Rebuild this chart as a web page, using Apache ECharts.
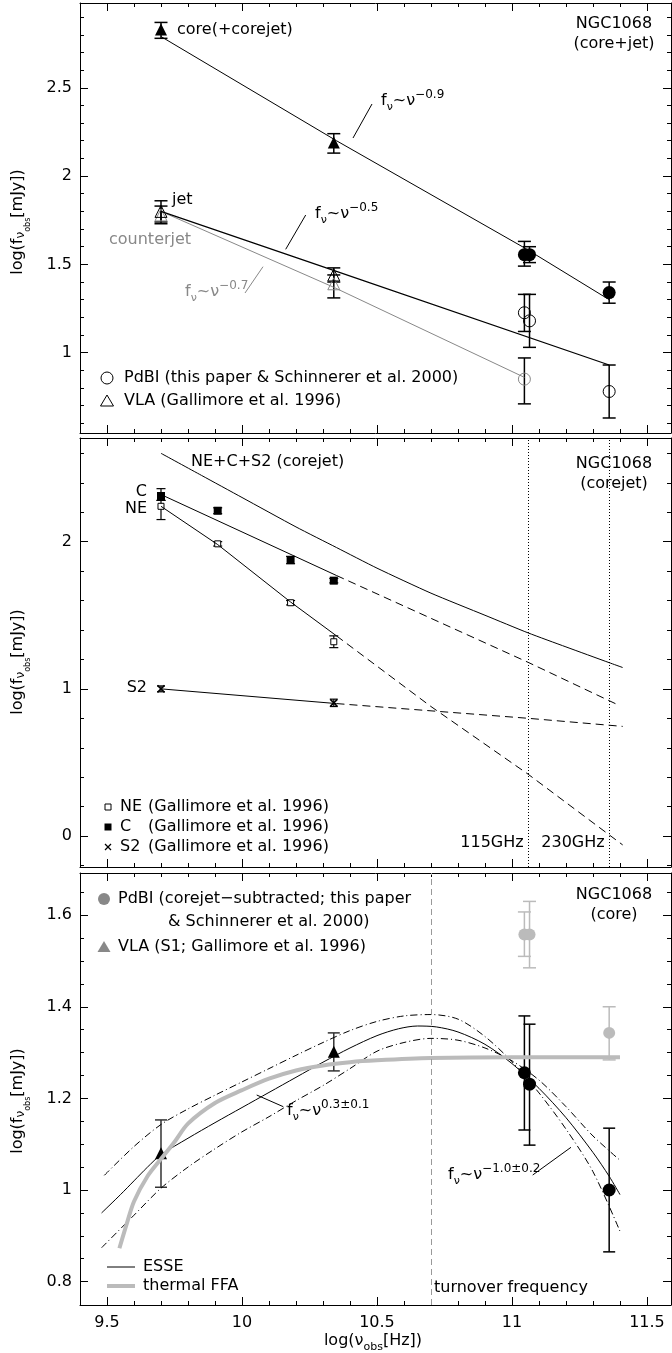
<!DOCTYPE html>
<html><head><meta charset="utf-8">
<script src="https://cdn.jsdelivr.net/npm/echarts@6/dist/echarts.min.js"></script>
<style>html,body{margin:0;padding:0;background:#fff}#c{width:672px;height:1353px}</style>
</head><body><div id="c"></div>
<script>
// ---------------- DATA ----------------
const xMajorTicks = [9.5, 10, 10.5, 11, 11.5];
const xMinorTicks = [9.4,9.5,9.6,9.7,9.8,9.9,10,10.1,10.2,10.3,10.4,10.5,10.6,10.7,10.8,10.9,11,11.1,11.2,11.3,11.4,11.5];
const topYMajor = [1, 1.5, 2, 2.5];
const topYMinor = [0.6,0.7,0.8,0.9,1,1.1,1.2,1.3,1.4,1.5,1.6,1.7,1.8,1.9,2,2.1,2.2,2.3,2.4,2.5,2.6,2.7,2.8,2.9];
const midYMajor = [0, 1, 2];
const midYMinor = [-0.2,0,0.2,0.4,0.6,0.8,1,1.2,1.4,1.6,1.8,2,2.2,2.4,2.6];
const botYMajor = [0.8, 1, 1.2, 1.4, 1.6];
const botYMinor = [0.8,0.85,0.9,0.95,1,1.05,1.1,1.15,1.2,1.25,1.3,1.35,1.4,1.45,1.5,1.55,1.6,1.65];

// top panel: [logNu, logF, low, high]
const coreVla      = [[9.7, 2.83, 2.78, 2.87], [10.34, 2.19, 2.13, 2.24]];
const corePdbi     = [[11.046, 1.555, 1.49, 1.63], [11.065, 1.555, 1.51, 1.60], [11.36, 1.34, 1.28, 1.40]];
const jetVla       = [[9.7, 1.80, 1.74, 1.86], [10.34, 1.44, 1.40, 1.48]];
const counterVla   = [[9.7, 1.78, 1.73, 1.83], [10.34, 1.39, 1.31, 1.44]];
const jetPdbi      = [[11.046, 1.226, 1.12, 1.33], [11.065, 1.18, 1.03, 1.33], [11.36, 0.78, 0.63, 0.93]];
const counterPdbi  = [[11.046, 0.85, 0.71, 0.97]];
const coreLine     = [[9.7, 2.79], [10.35, 2.20], [11.05, 1.59], [11.36, 1.30]];
const jetLine      = [[9.7, 1.80], [10.35, 1.46], [11.36, 0.93]];
const counterLine  = [[9.7, 1.80], [10.34, 1.37], [11.046, 0.86]];

// middle panel
const neVla = [[9.7, 2.24, 2.15, 2.28], [9.91, 1.985, 1.97, 2.00], [10.18, 1.585, 1.57, 1.60], [10.34, 1.32, 1.28, 1.36]];
const cVla  = [[9.7, 2.31, 2.28, 2.36], [9.91, 2.21, 2.19, 2.23], [10.18, 1.875, 1.85, 1.90], [10.34, 1.735, 1.72, 1.75]];
const s2Vla = [[9.7, 1.00, 0.98, 1.02], [10.34, 0.905, 0.88, 0.93]];
const sumLine     = [[9.7, 2.60], [9.85, 2.45], [10.0, 2.30], [10.2, 2.10], [10.35, 1.96], [10.5, 1.82], [10.7, 1.65], [10.9, 1.50], [11.06, 1.38], [11.2, 1.285], [11.36, 1.178], [11.41, 1.145]];
const cSolid      = [[9.7, 2.32], [10.35, 1.77]];
const cDashed     = [[10.35, 1.77], [11.06, 1.18], [11.40, 0.885]];
const neSolid     = [[9.7, 2.24], [9.91, 1.98], [10.18, 1.59], [10.35, 1.36]];
const neDashed    = [[10.35, 1.36], [10.7, 0.88], [11.06, 0.42], [11.41, -0.06]];
const s2Solid     = [[9.7, 1.00], [10.35, 0.90]];
const s2Dashed    = [[10.35, 0.90], [11.06, 0.80], [11.41, 0.745]];
const pdbiFreqs   = [11.06, 11.36];

// bottom panel
const s1Vla      = [[9.7, 1.08, 1.006, 1.153], [10.34, 1.302, 1.26, 1.343]];
const corePdbiSub= [[11.046, 1.256, 1.131, 1.38], [11.065, 1.231, 1.098, 1.362], [11.36, 1.0, 0.865, 1.135]];
const corePdbiRaw= [[11.046, 1.558, 1.51, 1.607], [11.065, 1.558, 1.485, 1.63], [11.36, 1.343, 1.284, 1.40]];
const esse  = [[9.48,0.95],[9.55,0.99],[9.6,1.02],[9.65,1.05],[9.7,1.077],[9.8,1.113],[9.9,1.147],[10.0,1.18],[10.1,1.213],[10.2,1.246],[10.3,1.279],[10.4,1.31],[10.5,1.337],[10.58,1.352],[10.65,1.358],[10.72,1.356],[10.8,1.345],[10.9,1.318],[11.0,1.276],[11.1,1.222],[11.2,1.158],[11.3,1.082],[11.36,1.03],[11.40,0.99]];
const envA  = [[9.49,1.032],[9.6,1.095],[9.7,1.143],[9.8,1.177],[9.9,1.207],[10.0,1.236],[10.1,1.265],[10.2,1.294],[10.3,1.322],[10.4,1.348],[10.5,1.368],[10.6,1.38],[10.7,1.383],[10.8,1.373],[10.9,1.335],[11.0,1.28],[11.1,1.212],[11.2,1.133],[11.3,1.04],[11.4,0.91]];
const envB  = [[9.48,0.874],[9.6,0.945],[9.7,1.004],[9.8,1.05],[9.9,1.09],[10.0,1.127],[10.1,1.16],[10.2,1.195],[10.3,1.228],[10.4,1.265],[10.5,1.303],[10.6,1.322],[10.7,1.331],[10.8,1.327],[10.9,1.31],[11.0,1.282],[11.1,1.24],[11.2,1.182],[11.3,1.118],[11.4,1.065]];
const ffa   = [[9.546,0.873],[9.575,0.93],[9.6,0.975],[9.65,1.03],[9.7,1.068],[9.75,1.105],[9.8,1.145],[9.9,1.19],[10.0,1.218],[10.1,1.243],[10.2,1.261],[10.3,1.272],[10.4,1.279],[10.5,1.283],[10.7,1.288],[11.0,1.29],[11.4,1.29]];
const turnover = 10.7;

// ---------------- LAYOUT ----------------
const F = '"DejaVu Sans", sans-serif';
const X_MIN = 9.4, X_MAX = 11.589;
const grids = [
  {left: 80, top: 3, width: 591, height: 430, ymin: 0.545, ymax: 2.98, yMaj: topYMajor, yMin: topYMinor, xlab: false},
  {left: 80, top: 438, width: 591, height: 429, ymin: -0.21, ymax: 2.704, yMaj: midYMajor, yMin: midYMinor, xlab: false},
  {left: 80, top: 873, width: 591, height: 432, ymin: 0.749, ymax: 1.692, yMaj: botYMajor, yMin: botYMinor, xlab: true}
];
const xAxis = [], yAxis = [];
grids.forEach((g, i) => {
  const ax = (pos, major, vals, showLab, line) => ({
    gridIndex: i, type: 'value', min: X_MIN, max: X_MAX, position: pos,
    splitLine: {show: false},
    axisLine: {show: line, onZero: false, lineStyle: {color: '#000', width: 1}},
    axisTick: {show: true, inside: true, length: major ? 8 : 4, customValues: vals, lineStyle: {color: '#000', width: 1}},
    axisLabel: {show: showLab, customValues: xMajorTicks, color: '#000', fontSize: 16, fontFamily: F, margin: 10}
  });
  xAxis.push(ax('bottom', true, xMajorTicks, g.xlab, true), ax('bottom', false, xMinorTicks, false, false),
             ax('top', true, xMajorTicks, false, true), ax('top', false, xMinorTicks, false, false));
  const ay = (pos, major, vals, showLab, line) => ({
    gridIndex: i, type: 'value', min: g.ymin, max: g.ymax, position: pos,
    splitLine: {show: false},
    axisLine: {show: line, onZero: false, lineStyle: {color: '#000', width: 1}},
    axisTick: {show: true, inside: true, length: major ? 8 : 4, customValues: vals, lineStyle: {color: '#000', width: 1}},
    axisLabel: {show: showLab, customValues: g.yMaj, color: '#000', fontSize: 16, fontFamily: F, margin: 8}
  });
  yAxis.push(ay('left', true, g.yMaj, true, true), ay('left', false, g.yMin, false, false),
             ay('right', true, g.yMaj, false, true), ay('right', false, g.yMin, false, false));
});

function lineS(g, data, color, width, type, smooth, extra) {
  return Object.assign({type: 'line', xAxisIndex: 4*g, yAxisIndex: 4*g, data, symbol: 'none', showSymbol: false,
    smooth: smooth || false, silent: true, animation: false,
    lineStyle: {color, width, type: type || 'solid'}}, extra || {});
}
function errS(g, data, color, cap, width) {
  return {type: 'custom', xAxisIndex: 4*g, yAxisIndex: 4*g, data, encode: {x: 0, y: [2, 3]}, silent: true, animation: false,
    renderItem: (p, api) => {
      const x = api.value(0);
      const a = api.coord([x, api.value(2)]), b = api.coord([x, api.value(3)]);
      const h = cap / 2, st = {stroke: color, lineWidth: width || 1.5};
      return {type: 'group', children: [
        {type: 'line', shape: {x1: a[0], y1: a[1], x2: b[0], y2: b[1]}, style: st},
        {type: 'line', shape: {x1: a[0]-h, y1: a[1], x2: a[0]+h, y2: a[1]}, style: st},
        {type: 'line', shape: {x1: b[0]-h, y1: b[1], x2: b[0]+h, y2: b[1]}, style: st}
      ]};
    }};
}
function scS(g, data, symbol, size, fill, stroke, bw) {
  return {type: 'scatter', xAxisIndex: 4*g, yAxisIndex: 4*g, data, symbol, symbolSize: size, silent: true, animation: false,
    encode: {x: 0, y: 1},
    itemStyle: {color: fill, borderColor: stroke, borderWidth: bw || 0, opacity: 1}};
}
const XPATH = 'path://M0,0L10,10M0,10L10,0';
const DASH = [8, 5], DASHDOT = [7, 3, 1, 3];
const TRANS = 'rgba(0,0,0,0)';

const series = [
  // top
  lineS(0, coreLine, '#000', 1),
  lineS(0, counterLine, '#888', 1),
  lineS(0, jetLine, '#000', 1.2),
  errS(0, coreVla, '#000', 13), errS(0, corePdbi, '#000', 13),
  errS(0, counterVla, '#000', 13), errS(0, jetVla, '#000', 13),
  errS(0, jetPdbi, '#000', 13), errS(0, counterPdbi, '#000', 13),
  scS(0, coreVla, 'triangle', 12, '#000'),
  scS(0, corePdbi, 'circle', 13, '#000'),
  scS(0, counterVla, 'triangle', 12, TRANS, '#888', 1),
  scS(0, jetVla, 'triangle', 12, TRANS, '#000', 1),
  scS(0, jetPdbi, 'circle', 12, TRANS, '#000', 1),
  scS(0, counterPdbi, 'circle', 12, TRANS, '#888', 1),
  // middle
  lineS(1, sumLine, '#000', 1, 'solid', 0.2, {markLine: {symbol: ['none', 'none'], silent: true, animation: false, label: {show: false},
    lineStyle: {color: '#000', width: 1, type: [1, 2]}, data: pdbiFreqs.map(v => ({xAxis: v}))}}),
  lineS(1, cSolid, '#000', 1), lineS(1, cDashed, '#000', 1, DASH),
  lineS(1, neSolid, '#000', 1), lineS(1, neDashed, '#000', 1, DASH),
  lineS(1, s2Solid, '#000', 1), lineS(1, s2Dashed, '#000', 1, DASH),
  errS(1, neVla, '#000', 9, 1.2), errS(1, cVla, '#000', 9, 1.2), errS(1, s2Vla, '#000', 8, 1.2),
  scS(1, neVla, 'rect', 6, '#fff', '#000', 1),
  scS(1, cVla, 'rect', 8, '#000'),
  scS(1, s2Vla, XPATH, 7, TRANS, '#000', 1.5),
  // bottom
  lineS(2, envA, '#000', 1, DASHDOT, 0.3),
  lineS(2, envB, '#000', 1, DASHDOT, 0.3),
  lineS(2, esse, '#000', 1, 'solid', 0.3, {markLine: {symbol: ['none', 'none'], silent: true, animation: false, label: {show: false},
    lineStyle: {color: '#999', width: 1, type: [6, 4]}, data: [{xAxis: turnover}]}}),
  lineS(2, ffa, '#bbb', 4, 'solid', 0.3),
  errS(2, corePdbiRaw, '#bbb', 13), errS(2, corePdbiSub, '#000', 12),
  errS(2, s1Vla, '#333', 12),
  scS(2, corePdbiRaw, 'circle', 12, '#bbb'),
  scS(2, corePdbiSub, 'circle', 13, '#000'),
  scS(2, s1Vla, 'triangle', 12, '#000')
];

// ---------------- TEXT / ANNOTATIONS ----------------
function R(color) {
  return {
    m: {fontSize: 16, fontFamily: F, fill: color, lineHeight: 24, verticalAlign: 'middle'},
    s: {fontSize: 11, fontFamily: F, fill: color, lineHeight: 11, verticalAlign: 'bottom'},
    p: {fontSize: 12, fontFamily: F, fill: color, lineHeight: 12, verticalAlign: 'top'}
  };
}
function T(x, y, text, o) {
  o = o || {};
  return {type: 'text', x, y, z: 100, rotation: o.rot || 0, silent: true,
    style: {text, fill: o.color || '#000', font: (o.size || 16) + 'px ' + F, align: o.align || 'left', verticalAlign: 'middle', rich: o.rich}};
}
function PL(x, y, exp, color) {
  return T(x, y, '{m|f}{s|ν}{m|~ν}{p|' + exp + '}', {rich: R(color), color});
}
function L(x1, y1, x2, y2, color, w) {
  return {type: 'line', z: 100, silent: true, shape: {x1, y1, x2, y2}, style: {stroke: color || '#000', lineWidth: w || 1}};
}
function circ(cx, cy, r, fill, stroke) {
  return {type: 'circle', z: 100, silent: true, shape: {cx, cy, r}, style: {fill: fill || 'none', stroke: stroke || null, lineWidth: 1}};
}
function tri(x, y, fill, stroke) {
  return {type: 'polygon', z: 100, silent: true, shape: {points: [[x, y-6], [x+6.5, y+5], [x-6.5, y+5]]}, style: {fill: fill || 'none', stroke: stroke || null, lineWidth: 1}};
}
const yTitleRich = {
  a: {fontSize: 16, fontFamily: F, fill: '#000', lineHeight: 28, verticalAlign: 'middle'},
  b: {fontSize: 12, fontFamily: F, fill: '#000', lineHeight: 12, padding: [0, 0, 5, 0], verticalAlign: 'bottom'},
  c: {fontSize: 8, fontFamily: F, fill: '#000', lineHeight: 8, verticalAlign: 'bottom'}
};
const yTitle = '{a|log(f}{b|ν}{c|obs}{a|[mJy])}';
const xTitleRich = {
  a: {fontSize: 16, fontFamily: F, fill: '#000', lineHeight: 24, verticalAlign: 'middle'},
  b: {fontSize: 11, fontFamily: F, fill: '#000', lineHeight: 11, verticalAlign: 'bottom'}
};

const graphic = [
  // top panel
  T(177, 30, 'core(+corejet)'),
  T(172, 200, 'jet'),
  T(109, 240, 'counterjet', {color: '#888'}),
  T(614, 24, 'NGC1068', {align: 'center'}),
  T(614, 44, '(core+jet)', {align: 'center'}),
  PL(381, 101, '−0.9', '#000'),
  PL(315, 214, '−0.5', '#000'),
  PL(185, 292, '−0.7', '#888'),
  L(372, 104, 353, 138), L(305.7, 215, 285.7, 249.3), L(263, 266.7, 245, 293, '#888'),
  circ(107, 378, 6, 'none', '#000'), T(124, 378, 'PdBI (this paper & Schinnerer et al. 2000)'),
  tri(107, 401, 'none', '#000'), T(124, 401, 'VLA (Gallimore et al. 1996)'),
  // middle panel
  T(191, 462, 'NE+C+S2 (corejet)'),
  T(147, 492, 'C', {align: 'right'}),
  T(147, 509, 'NE', {align: 'right'}),
  T(147, 688, 'S2', {align: 'right'}),
  T(614, 464, 'NGC1068', {align: 'center'}),
  T(614, 484, '(corejet)', {align: 'center'}),
  T(492, 843, '115GHz', {align: 'center'}),
  T(573, 843, '230GHz', {align: 'center'}),
  {type: 'rect', z: 100, silent: true, shape: {x: 105, y: 804, width: 6, height: 6}, style: {fill: '#fff', stroke: '#000', lineWidth: 1}},
  T(120, 807, 'NE'), T(148, 807, '(Gallimore et al. 1996)'),
  {type: 'rect', z: 100, silent: true, shape: {x: 104.5, y: 823.5, width: 7, height: 7}, style: {fill: '#000'}},
  T(120, 827, 'C'), T(148, 827, '(Gallimore et al. 1996)'),
  L(105, 844, 111, 850, '#000', 1.3), L(105, 850, 111, 844, '#000', 1.3),
  T(120, 847, 'S2'), T(148, 847, '(Gallimore et al. 1996)'),
  // bottom panel
  circ(104, 899, 6, '#888'), T(118, 899, 'PdBI (corejet−subtracted; this paper'),
  T(168, 922, '& Schinnerer et al. 2000)'),
  tri(104, 947, '#888'), T(118, 947, 'VLA (S1; Gallimore et al. 1996)'),
  T(614, 895, 'NGC1068', {align: 'center'}),
  T(614, 915, '(core)', {align: 'center'}),
  PL(287, 1111, '0.3±0.1', '#000'), L(256.7, 1095, 283.3, 1106.7),
  PL(448, 1175, '−1.0±0.2', '#000'), L(532.7, 1175, 571, 1147.3),
  T(434, 1288, 'turnover frequency'),
  L(107, 1267, 135, 1267, '#000', 1), T(143, 1267, 'ESSE'),
  L(107, 1286, 135, 1286, '#bbb', 4), T(143, 1286, 'thermal FFA'),
  // axis titles
  T(373, 1341, '{a|log(ν}{b|obs}{a|[Hz])}', {align: 'center', rich: xTitleRich}),
  T(18, 222, yTitle, {align: 'center', rich: yTitleRich, rot: Math.PI / 2}),
  T(18, 662, yTitle, {align: 'center', rich: yTitleRich, rot: Math.PI / 2}),
  T(18, 1101, yTitle, {align: 'center', rich: yTitleRich, rot: Math.PI / 2})
];

const chart = echarts.init(document.getElementById('c'), null, {renderer: 'canvas'});
chart.setOption({
  animation: false,
  backgroundColor: '#fff',
  grid: grids.map(g => ({left: g.left, top: g.top, width: g.width, height: g.height, containLabel: false})),
  xAxis, yAxis, series, graphic
});
</script>
</body></html>
